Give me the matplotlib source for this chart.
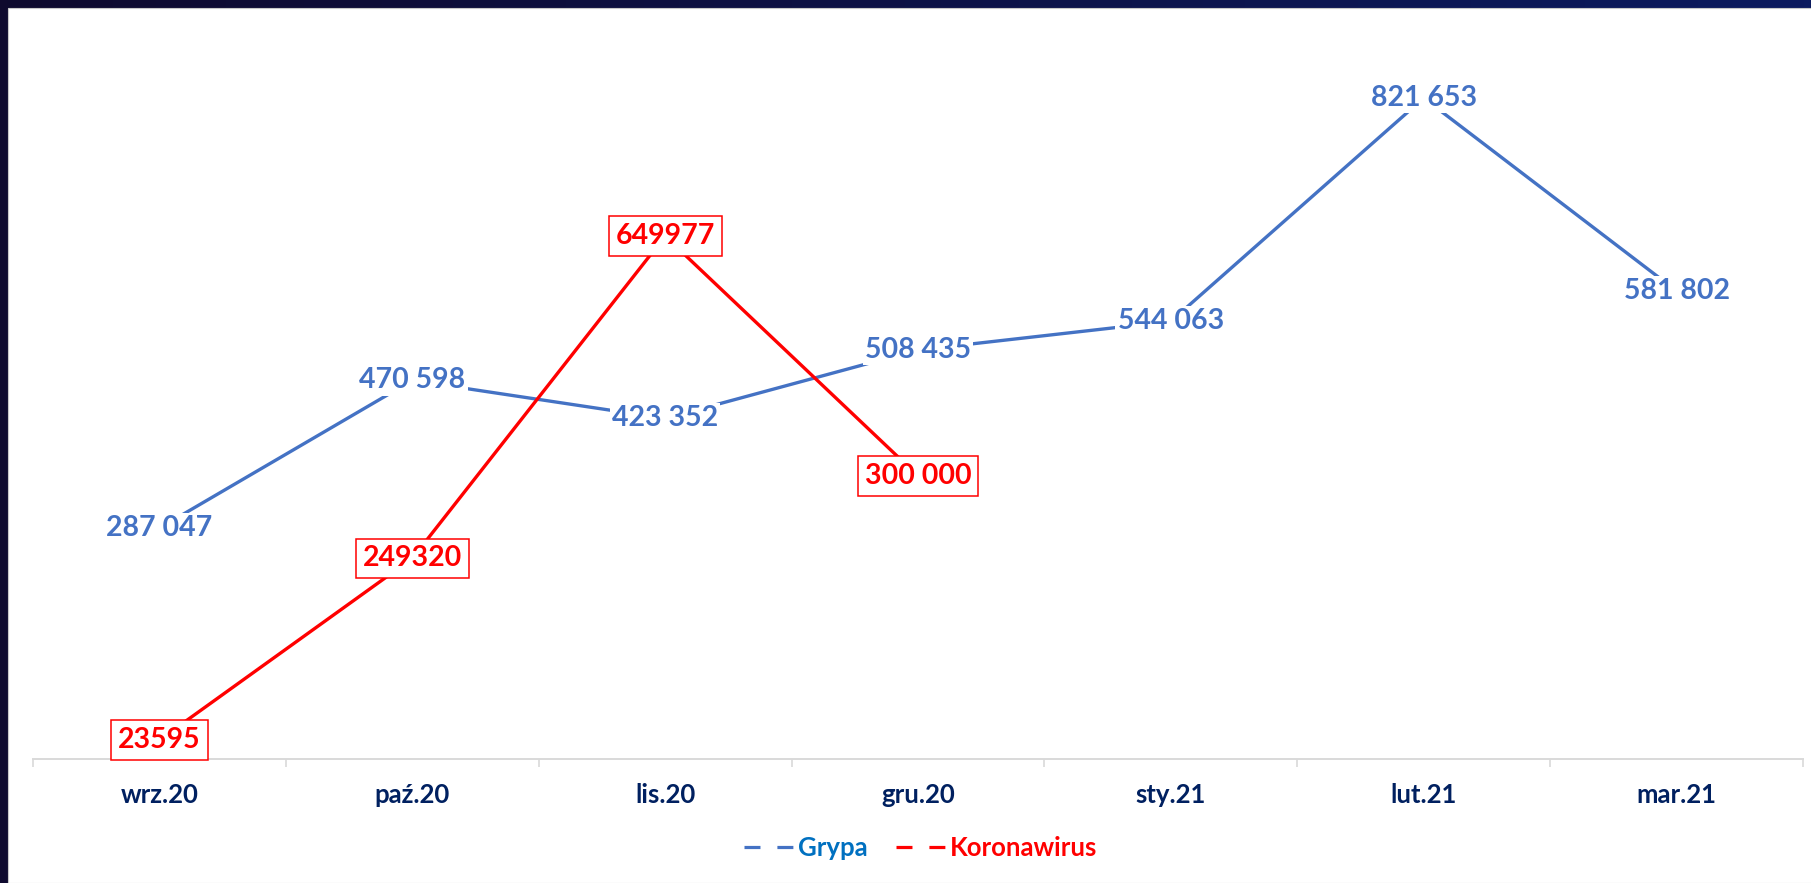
import numpy as np
import matplotlib.pyplot as plt
from matplotlib.lines import Line2D
from matplotlib.patches import Rectangle
from matplotlib.colors import LinearSegmentedColormap

plt.rcParams['font.family'] = ['Lato', 'DejaVu Sans']
plt.rcParams['font.weight'] = 'bold'

months = ['wrz.20', 'paź.20', 'lis.20', 'gru.20', 'sty.21', 'lut.21', 'mar.21']
grypa = [287047, 470598, 423352, 508435, 544063, 821653, 581802]
grypa_labels = ['287 047', '470 598', '423 352', '508 435', '544 063', '821 653', '581 802']
# the last red point sits where the picture draws it, the label keeps its printed text
korona = [23595, 249320, 649977, 352000]
korona_labels = ['23595', '249320', '649977', '300 000']

blue = '#4472C4'
red = '#FF0000'
navy = '#002060'

fig = plt.figure(figsize=(18.11, 8.83), dpi=100, facecolor='#0d0b33')

# dark slide background behind the white chart area
bg = fig.add_axes([0, 0, 1, 1], zorder=-20)
bg.imshow(np.linspace(0, 1, 256)[None, :], aspect='auto',
          cmap=LinearSegmentedColormap.from_list('bg', ['#0f0a2e', '#0b1a5e']))
bg.axis('off')
fig.patches.append(Rectangle((8/1811, 0), 1, 1 - 8/883, transform=fig.transFigure,
                             facecolor='white', edgecolor='#c8c8c8', lw=0.8, zorder=-10))

ax = fig.add_axes([33/1811, 124/883, 1770/1811, 724/883])
ax.set_facecolor('none')
x = np.arange(len(months))

ax.plot(x, grypa, color=blue, lw=2.4, solid_capstyle='butt', zorder=2)
ax.plot(x[:len(korona)], korona, color=red, lw=2.4, solid_capstyle='butt', zorder=2)

for xi, v, s in zip(x, grypa, grypa_labels):
    ax.text(xi, v, s, color=blue, fontsize=20.5, ha='center', va='center', zorder=3,
            bbox=dict(boxstyle='square,pad=0.08', facecolor='white', edgecolor='none'))
for xi, v, s in zip(x, korona, korona_labels):
    ax.text(xi, v, s, color=red, fontsize=20.5, ha='center', va='center', zorder=4,
            bbox=dict(boxstyle='square,pad=0.24', facecolor='white', edgecolor=red, lw=1.1))

ax.set_xlim(-0.5, len(months) - 0.5)
ax.set_ylim(0, 900000)
ax.set_yticks([])
for s in ['top', 'right', 'left']:
    ax.spines[s].set_visible(False)
ax.spines['bottom'].set_color('#d9d9d9')
ax.spines['bottom'].set_linewidth(1.4)

ax.set_xticks(np.arange(-0.5, len(months)), labels=[''] * (len(months) + 1))
ax.tick_params(axis='x', which='major', length=6, width=1.2, color='#d9d9d9')
ax.set_xticks(x, labels=months, minor=True)
ax.tick_params(axis='x', which='minor', length=0, pad=17, labelsize=18.5, labelcolor=navy)

handles = [Line2D([], [], color=blue, lw=2.3, dashes=(5, 5.3)),
           Line2D([], [], color=red, lw=2.3, dashes=(5, 5.3))]
leg = fig.legend(handles, ['Grypa', 'Koronawirus'], loc='center', bbox_to_anchor=(921/1811, 35/883),
                 ncol=2, frameon=False, fontsize=18.5, handlelength=1.9, handletextpad=0.2,
                 columnspacing=1.1)
for t, c in zip(leg.get_texts(), ['#0070C0', red]):
    t.set_color(c)

fig.savefig('out.png', dpi=100, facecolor=fig.get_facecolor())
